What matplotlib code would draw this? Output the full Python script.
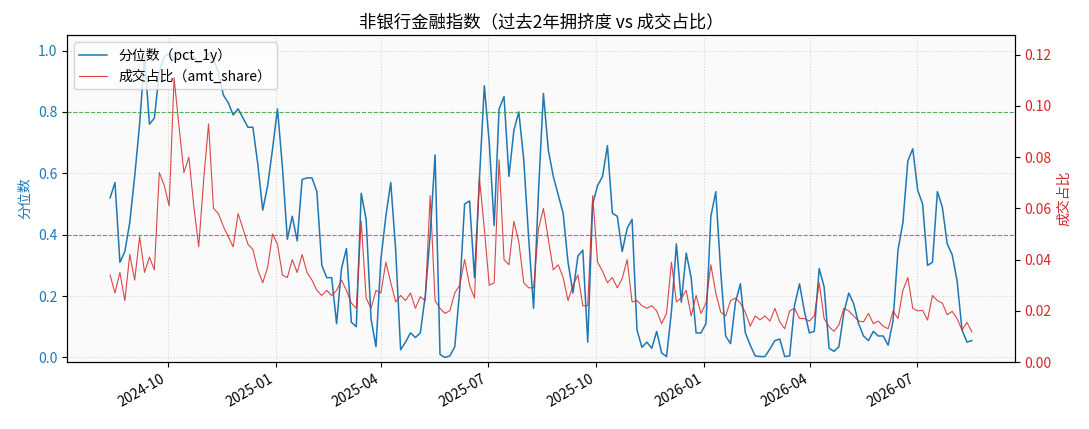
import matplotlib
matplotlib.use("Agg")
import matplotlib.pyplot as plt
import matplotlib.dates as mdates
import pandas as pd

plt.rcParams['font.family'] = ['Noto Sans CJK SC', 'DejaVu Sans']
plt.rcParams['axes.unicode_minus'] = False

start_date = "2024-08-13"
end_date = "2026-08-17"

# 分位数 (pct_1y)
pct_1y = [
    0.52, 0.57, 0.31, 0.345, 0.44, 0.59, 0.76, 0.98, 0.76, 0.78,
    0.93, 0.98, 0.99, 0.97, 0.99, 0.98, 0.97, 0.98, 0.96, 0.97,
    0.99, 0.97, 0.93, 0.855, 0.83, 0.79, 0.81, 0.78, 0.75, 0.75,
    0.63, 0.48, 0.56, 0.68, 0.81, 0.62, 0.385, 0.46, 0.38, 0.58,
    0.585, 0.585, 0.54, 0.30, 0.26, 0.26, 0.11, 0.29, 0.355, 0.115,
    0.10, 0.535, 0.45, 0.125, 0.035, 0.32, 0.46, 0.57, 0.35, 0.025,
    0.05, 0.08, 0.065, 0.08, 0.20, 0.40, 0.66, 0.01, 0.0, 0.005,
    0.035, 0.22, 0.50, 0.51, 0.26, 0.58, 0.885, 0.70, 0.43, 0.81,
    0.85, 0.59, 0.74, 0.80, 0.645, 0.39, 0.16, 0.54, 0.86, 0.675,
    0.59, 0.53, 0.47, 0.31, 0.21, 0.33, 0.35, 0.05, 0.50, 0.56,
    0.59, 0.69, 0.47, 0.46, 0.345, 0.42, 0.45, 0.09, 0.033, 0.05,
    0.03, 0.085, 0.015, 0.003, 0.15, 0.37, 0.18, 0.34, 0.26, 0.08,
    0.08, 0.11, 0.46, 0.54, 0.28, 0.07, 0.045, 0.18, 0.24, 0.08,
    0.04, 0.005, 0.003, 0.003, 0.028, 0.055, 0.06, 0.003, 0.005, 0.17,
    0.24, 0.15, 0.08, 0.085, 0.29, 0.23, 0.03, 0.02, 0.035, 0.145,
    0.21, 0.175, 0.11, 0.07, 0.055, 0.085, 0.07, 0.07, 0.04, 0.12,
    0.35, 0.44, 0.64, 0.68, 0.545, 0.50, 0.30, 0.31, 0.54, 0.49,
    0.37, 0.335, 0.25, 0.09, 0.05, 0.055,
]

# 成交占比 (amt_share)
amt_share = [
    0.034, 0.027, 0.035, 0.024, 0.042, 0.032, 0.049, 0.035, 0.041, 0.036,
    0.074, 0.069, 0.061, 0.111, 0.092, 0.074, 0.08, 0.061, 0.045, 0.071,
    0.093, 0.06, 0.058, 0.053, 0.049, 0.045, 0.058, 0.052, 0.046, 0.044,
    0.036, 0.031, 0.037, 0.05, 0.046, 0.034, 0.033, 0.04, 0.035, 0.042,
    0.035, 0.032, 0.028, 0.026, 0.028, 0.026, 0.028, 0.032, 0.028, 0.023,
    0.021, 0.055, 0.025, 0.021, 0.028, 0.027, 0.039, 0.031, 0.0235, 0.026,
    0.024, 0.027, 0.021, 0.0255, 0.024, 0.065, 0.024, 0.021, 0.019, 0.02,
    0.027, 0.03, 0.04, 0.03, 0.025, 0.072, 0.052, 0.03, 0.031, 0.079,
    0.04, 0.038, 0.055, 0.047, 0.031, 0.029, 0.029, 0.052, 0.06, 0.048,
    0.036, 0.038, 0.033, 0.024, 0.03, 0.034, 0.022, 0.022, 0.065, 0.039,
    0.0355, 0.031, 0.033, 0.029, 0.0326, 0.04, 0.0235, 0.024, 0.022, 0.021,
    0.022, 0.02, 0.015, 0.019, 0.039, 0.0235, 0.025, 0.028, 0.018, 0.026,
    0.019, 0.023, 0.038, 0.027, 0.0195, 0.018, 0.024, 0.025, 0.023, 0.0195,
    0.014, 0.018, 0.0165, 0.018, 0.016, 0.021, 0.0157, 0.013, 0.02, 0.021,
    0.017, 0.017, 0.016, 0.018, 0.031, 0.017, 0.0138, 0.012, 0.0145, 0.021,
    0.02, 0.018, 0.016, 0.0157, 0.019, 0.015, 0.016, 0.014, 0.013, 0.02,
    0.017, 0.028, 0.033, 0.021, 0.02, 0.0202, 0.0164, 0.026, 0.024, 0.023,
    0.0185, 0.0198, 0.017, 0.0125, 0.0155, 0.0118,
]

dates = pd.date_range(start_date, end_date, periods=len(pct_1y))

fig = plt.figure(figsize=(10.89, 4.29), dpi=100)
ax1 = fig.add_axes([0.0615, 0.156, 0.8705, 0.762])
ax1.set_facecolor("#fafafa")

line1, = ax1.plot(dates, pct_1y, color="#1f77b4", linewidth=1.1, label="分位数（pct_1y）")
ax1.axhline(0.8, color="#2ca02c", linestyle="--", linewidth=0.8, alpha=0.8)
ax1.axhline(0.4, color="#ff3333", linestyle="--", linewidth=0.8, alpha=0.8)
ax1.set_ylim(-0.015, 1.05)
ax1.set_ylabel("分位数", color="#1f77b4", fontsize=10)
ax1.tick_params(axis="y", labelcolor="#1f77b4")
ax1.grid(True, linestyle=":", color="#c8c8c8", alpha=0.7)

ax2 = ax1.twinx()
line2, = ax2.plot(dates, amt_share, color="#d62728", linewidth=0.8, alpha=0.85, label="成交占比（amt_share）")
ax2.set_ylim(0, max(amt_share) * 1.15)
ax2.set_ylabel("成交占比", color="#d62728", fontsize=10)
ax2.tick_params(axis="y", labelcolor="#d62728")

ax1.xaxis.set_major_locator(mdates.MonthLocator(bymonth=[1, 4, 7, 10]))
ax1.xaxis.set_major_formatter(mdates.DateFormatter("%Y-%m"))
for label in ax1.get_xticklabels():
    label.set_rotation(30)
    label.set_ha("right")

ax1.legend([line1, line2], ["分位数（pct_1y）", "成交占比（amt_share）"], loc="upper left", fontsize=10)
ax1.set_title("非银行金融指数（过去2年拥挤度 vs 成交占比）", fontsize=12.5)

fig.savefig("out.png", dpi=100)
